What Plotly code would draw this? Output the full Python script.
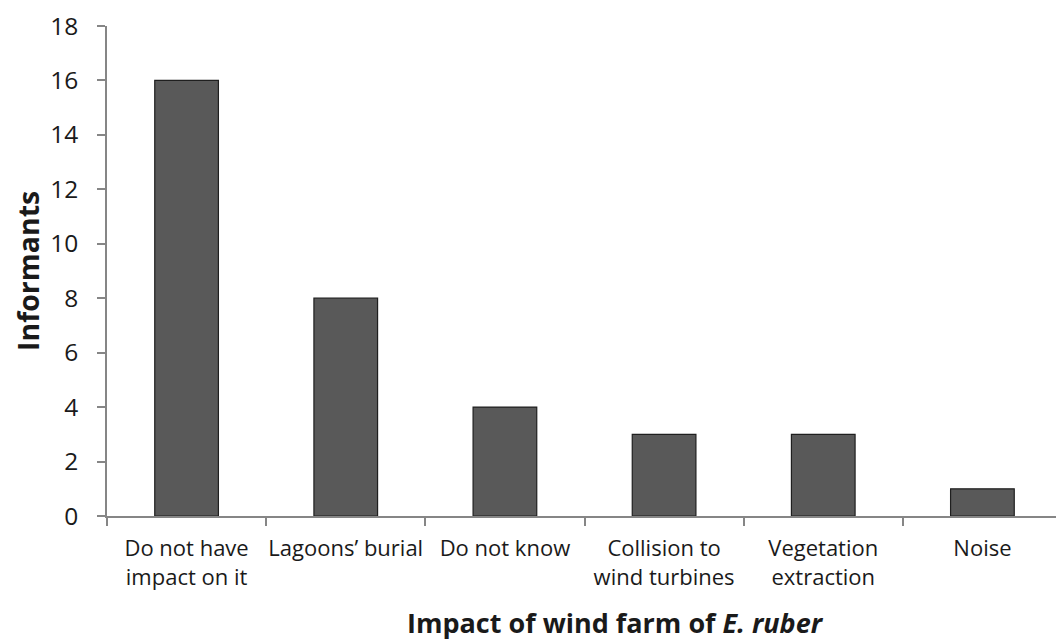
import plotly.graph_objects as go

categories = ["Do not have<br>impact on it", "Lagoons’ burial", "Do not know",
              "Collision to<br>wind turbines", "Vegetation<br>extraction", "Noise"]
informants = [16, 8, 4, 3, 3, 1]
y_ticks = [0, 2, 4, 6, 8, 10, 12, 14, 16, 18]

FONT = "'Open Sans', sans-serif"
OFF = 8  # page body margin in the browser
W, H = 1064 - OFF, 641 - OFF
L, R, T = 107 - OFF, 2, 26 - OFF
B = H - (516 - OFF)
PW, PH = W - L - R, H - T - B

fig = go.Figure(go.Bar(
    x=categories, y=informants, width=0.4,
    marker=dict(color="#595959", line=dict(color="#1f1f1f", width=1.2)),
))

fig.update_layout(
    width=W, height=H,
    margin=dict(l=L, r=R, t=T, b=B),
    plot_bgcolor="white", paper_bgcolor="white",
    showlegend=False,
    font=dict(family=FONT, color="#1a1a1a"),
)
fig.update_xaxes(
    type="category", range=[-0.5, 5.5], automargin=False,
    showline=True, linecolor="#868686", linewidth=1.5,
    ticks="outside", tickson="boundaries", ticklen=8, tickcolor="#868686", tickwidth=1.5,
    tickfont=dict(size=22, family=FONT), tickangle=0,
    ticklabelstandoff=12,
    showgrid=False,
)
fig.update_yaxes(
    range=[0, 18], tickvals=y_ticks, automargin=False,
    showline=True, linecolor="#868686", linewidth=1.5,
    ticks="outside", ticklen=8, tickcolor="#868686", tickwidth=1.5,
    tickfont=dict(size=24.5, family=FONT),
    ticklabelstandoff=14,
    showgrid=False, zeroline=False,
)

fig.add_annotation(
    text="<b>Impact of wind farm of <i>E. ruber</i></b>",
    xref="paper", yref="paper", x=(615 - 107) / PW, y=-(622 - 516) / PH,
    xanchor="center", yanchor="middle", showarrow=False,
    font=dict(size=27, family=FONT, color="#1a1a1a"),
)
fig.add_annotation(
    text="<b>Informants</b>",
    xref="paper", yref="paper", x=-(107 - 28) / PW, y=0.5,
    xanchor="center", yanchor="middle", showarrow=False, textangle=-90,
    font=dict(size=28.5, family=FONT, color="#1a1a1a"),
)

fig.write_html("out.html")
